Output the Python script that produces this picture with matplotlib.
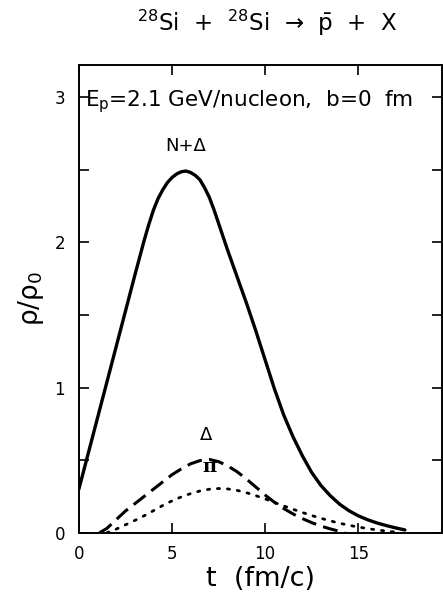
# density of N+Delta, Delta and pi vs time for Si+Si -> pbar + X
import matplotlib.pyplot as plt

plt.rcParams['font.family'] = ['DejaVu Sans']
plt.rcParams['mathtext.fontset'] = 'dejavusans'

# N + Delta (solid)
t_nd = [0, 0.5, 1.0, 1.5, 2.0, 2.5, 3.0, 3.5, 3.75, 4.0, 4.25, 4.5, 4.75,
        5.0, 5.25, 5.5, 5.75, 6.0, 6.25, 6.5, 6.75, 7.0, 7.25, 7.5, 8.0,
        8.5, 9.0, 9.5, 10.0, 10.5, 11.0, 11.5, 12.0, 12.5, 13.0, 13.5, 14.0,
        14.5, 15.0, 15.5, 16.0, 16.5, 17.0, 17.5]
rho_nd = [0.30, 0.545, 0.79, 1.035, 1.28, 1.525, 1.77, 2.01, 2.12, 2.22,
          2.30, 2.36, 2.41, 2.445, 2.47, 2.485, 2.49, 2.48, 2.46, 2.43,
          2.375, 2.31, 2.225, 2.13, 1.94, 1.76, 1.58, 1.39, 1.19, 0.99,
          0.81, 0.66, 0.53, 0.415, 0.325, 0.255, 0.197, 0.152, 0.117,
          0.09, 0.068, 0.05, 0.034, 0.02]

# Delta (dashed)
t_d = [1.1, 1.5, 2.0, 2.5, 3.0, 3.5, 4.0, 4.5, 5.0, 5.5, 6.0, 6.5, 7.0, 7.5,
       8.0, 8.5, 9.0, 9.5, 10.0, 10.5, 11.0, 11.5, 12.0, 12.5, 13.0, 13.5,
       14.0, 14.3]
rho_d = [0.0, 0.03, 0.09, 0.15, 0.20, 0.25, 0.30, 0.35, 0.40, 0.44, 0.475,
         0.497, 0.505, 0.49, 0.46, 0.42, 0.37, 0.315, 0.26, 0.21, 0.167,
         0.13, 0.098, 0.07, 0.046, 0.027, 0.01, 0.0]

# pi (dotted)
t_pi = [1.5, 2.0, 2.5, 3.0, 3.5, 4.0, 4.5, 5.0, 5.5, 6.0, 6.5, 7.0, 7.5, 8.0,
        8.5, 9.0, 9.5, 10.0, 10.5, 11.0, 11.5, 12.0, 12.5, 13.0, 13.5, 14.0,
        14.5, 15.0, 15.5, 16.0, 16.5, 17.0, 17.3]
rho_pi = [0.0, 0.025, 0.055, 0.085, 0.117, 0.152, 0.188, 0.22, 0.247, 0.27,
          0.288, 0.30, 0.305, 0.302, 0.292, 0.276, 0.256, 0.233, 0.209,
          0.185, 0.162, 0.14, 0.119, 0.10, 0.082, 0.066, 0.052, 0.04,
          0.029, 0.02, 0.012, 0.005, 0.0]

fig = plt.figure(figsize=(4.43, 5.96), dpi=100)
ax = fig.add_axes([0.178, 0.106, 0.82, 0.785])

ax.plot(t_nd, rho_nd, color='black', lw=2.4, solid_capstyle='round')
ax.plot(t_d, rho_d, color='black', lw=2.2, dashes=(4.9, 2.4))
ax.plot(t_pi, rho_pi, color='black', lw=2.0, linestyle=(0, (0.8, 2.8)),
        dash_capstyle='round')

ax.set_xlim(0, 19.5)
ax.set_ylim(0, 3.22)
ax.set_xticks([0, 5, 10, 15])
ax.set_yticks([0, 1, 2, 3])
ax.set_yticks([0.5, 1.5, 2.5], minor=True)
ax.tick_params(which='both', direction='in', length=7, width=1.2,
               top=True, right=True, labelsize=12, pad=9)
ax.tick_params(axis='y', pad=10)
for s in ax.spines.values():
    s.set_linewidth(1.4)

ax.text(5.72, 2.66, 'N+Δ', fontsize=13, ha='center', va='center')
ax.text(6.85, 0.67, 'Δ', fontsize=13, ha='center', va='center')
ax.text(7.0, 0.45, 'π', fontsize=14, ha='center', va='center',
        family='DejaVu Serif', fontweight='bold')
ax.text(0.32, 2.97, 'E$_\\mathregular{p}$=2.1 GeV/nucleon,  b=0  fm',
        fontsize=15.5, ha='left', va='center')

ax.set_xlabel('t  (fm/c)', fontsize=19.5, labelpad=2)
ax.set_ylabel('ρ/ρ$_\\mathregular{0}$', fontsize=19, labelpad=6)

fig.text(0.603, 0.962,
         '$^\\mathregular{28}$Si  +  $^\\mathregular{28}$Si  →  '
         '$\\bar{\\mathregular{p}}$  +  X',
         fontsize=16.5, ha='center', va='center')

fig.savefig('out.png', dpi=100)
